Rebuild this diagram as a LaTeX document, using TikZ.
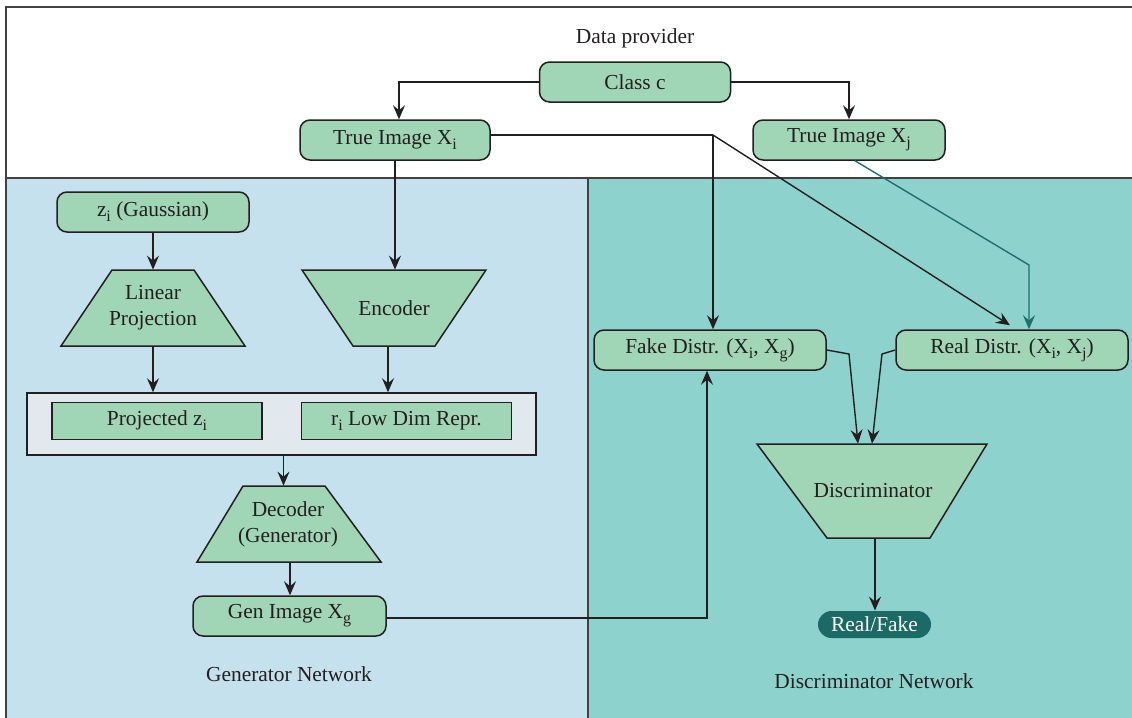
\documentclass[tikz,border=0pt]{standalone}
\usepackage{fontspec}
\setmainfont{Liberation Serif}
\usetikzlibrary{arrows.meta}

\definecolor{nodegreen}{HTML}{A0D6B5}
\definecolor{genbg}{HTML}{C5E1EE}
\definecolor{discbg}{HTML}{8ED2CD}
\definecolor{groupbg}{HTML}{E1E9EE}
\definecolor{ink}{HTML}{231F20}
\definecolor{darkteal}{HTML}{1C6A65}
\definecolor{linkteal}{HTML}{1F6F6A}

% lowered subscript in the text font
\newcommand{\lowsub}[1]{\raisebox{-0.5ex}{\fontsize{8}{8}\selectfont #1}}

\tikzset{
  every node/.style={font=\fontsize{10.7}{13}\selectfont, text=ink},
  rbox/.style={draw=ink, fill=nodegreen, line width=0.75pt, rounded corners=5pt,
               inner sep=0pt, minimum height=20pt},
  sbox/.style={draw=ink, fill=nodegreen, line width=0.75pt, inner sep=0pt,
               minimum width=105pt, minimum height=18.5pt},
  trap/.style={draw=ink, fill=nodegreen, line width=0.75pt},
  tlabel/.style={inner sep=0pt, align=center},
  tip/.style={-{Stealth[length=7pt,width=6pt,inset=2.5pt]}},
  arr/.style={draw=ink, line width=0.7pt, tip},
  link/.style={draw=ink, line width=0.7pt},
  tealarr/.style={draw=linkteal, line width=0.7pt, tip},
  frame/.style={draw=ink!85, line width=0.75pt},
}

\begin{document}
\begin{tikzpicture}[x=0.5pt, y=-0.5pt]
  \useasboundingbox (0,0) rectangle (1132,718);

  % panels
  \fill[white] (0,0) rectangle (1132,718);
  \fill[genbg] (6,178) rectangle (588,718);
  \fill[discbg] (588,178) rectangle (1132,718);
  \draw[frame] (6,718) -- (6,7) -- (1132,7);
  \draw[frame] (6,178) -- (1132,178);
  \draw[frame] (588,178) -- (588,718);

  % panel titles
  \node (tdata) at (635,38) {Data provider};
  \node (tgen) at (289,674) {Generator Network};
  \node (tdisc) at (874,681) {Discriminator Network};

  % data provider
  \node[rbox, minimum width=95.5pt] (classc) at (635,82) {Class c};
  \node[rbox, minimum width=95pt] (xi) at (395,140) {True Image X\lowsub{i}};
  \node[rbox, minimum width=96pt] (xj) at (849,140) {True Image X\lowsub{j}};

  % generator
  \node[rbox, minimum width=96pt] (zi) at (153,212) {z\lowsub{i} (Gaussian)};

  \draw[trap] (112,270) -- (194,270) -- (245,346) -- (61,346) -- cycle;
  \node[tlabel, minimum width=92pt, minimum height=38pt] (linproj) at (153,308) {Linear\\Projection};

  \draw[trap] (302,270) -- (486,270) -- (435,346) -- (353,346) -- cycle;
  \node[tlabel, minimum width=92pt, minimum height=38pt] (enc) at (394,308) {Encoder};

  \node[draw=ink, fill=groupbg, line width=0.75pt, inner sep=0pt,
        minimum width=254.5pt, minimum height=31pt] (group) at (281.5,424) {};
  \node[sbox] (projz) at (157,421) {Projected z\lowsub{i}};
  \node[sbox] (ri) at (406.5,421) {r\lowsub{i} Low Dim Repr.};

  \draw[trap] (243,486) -- (325,486) -- (381,562) -- (197,562) -- cycle;
  \node[tlabel, minimum width=92pt, minimum height=38pt] (dec) at (288,524) {Decoder\\(Generator)};

  \node[rbox, minimum width=96.5pt] (gen) at (289.5,616) {Gen Image X\lowsub{g}};

  % discriminator
  \node[rbox, minimum width=116pt] (fake) at (710,350) {Fake Distr. (X\lowsub{i}, X\lowsub{g})};
  \node[rbox, minimum width=116pt] (real) at (1012,350) {Real Distr. (X\lowsub{i}, X\lowsub{j})};

  \draw[trap] (757,444) -- (987,444) -- (930,538) -- (827,538) -- cycle;
  \node[tlabel, minimum width=115pt, minimum height=47pt] (disc) at (873,491) {Discriminator};

  \node[fill=darkteal, rounded corners=6.75pt, inner sep=0pt,
        minimum width=56.5pt, minimum height=13.5pt, text=white] (rf) at (874.5,624.5) {Real/Fake};

  % routing points
  \coordinate (split) at (713,135);
  \coordinate (tbend) at (1029,265);
  \coordinate (fbend) at (849,354);
  \coordinate (rbend) at (882,354);

  % connectors
  \draw[arr] (classc.west) -| ([xshift=2pt]xi.north);
  \draw[arr] (classc.east) -| (xj.north);
  \draw[arr] (xi.south) -- (xi.south |- enc.north);
  \draw[arr] (zi.south) -- (linproj.north);
  \draw[arr] (linproj.south) -- (linproj.south |- group.north);
  \draw[arr] ([xshift=-3pt]enc.south) -- ([xshift=-3pt]enc.south |- group.north);
  \draw[arr] ([xshift=1pt]group.south) -- ([xshift=1pt]group.south |- dec.north);
  \draw[arr] ([xshift=1pt]dec.south) -- ([xshift=1pt]dec.south |- gen.north);
  \draw[arr] ([yshift=-1pt]gen.east) -| ([xshift=-1.5pt]fake.south);

  \draw[link] ([yshift=2.5pt]xi.east) -- (split);
  \draw[arr] (split) -- (split |- fake.north);
  \draw[arr] (split) -- ([xshift=-1pt,yshift=2pt]real.north);
  \draw[tealarr] ([xshift=3pt]xj.south) -- (tbend) -- (tbend |- real.north);

  \draw[arr] (fake.east) -- (fbend) -- ([xshift=-7.5pt]disc.north);
  \draw[arr] (real.west) -- (rbend) -- ([xshift=-0.5pt]disc.north);
  \draw[arr] ([xshift=1pt]disc.south) -- ([xshift=1pt]disc.south |- rf.north);
\end{tikzpicture}
\end{document}
